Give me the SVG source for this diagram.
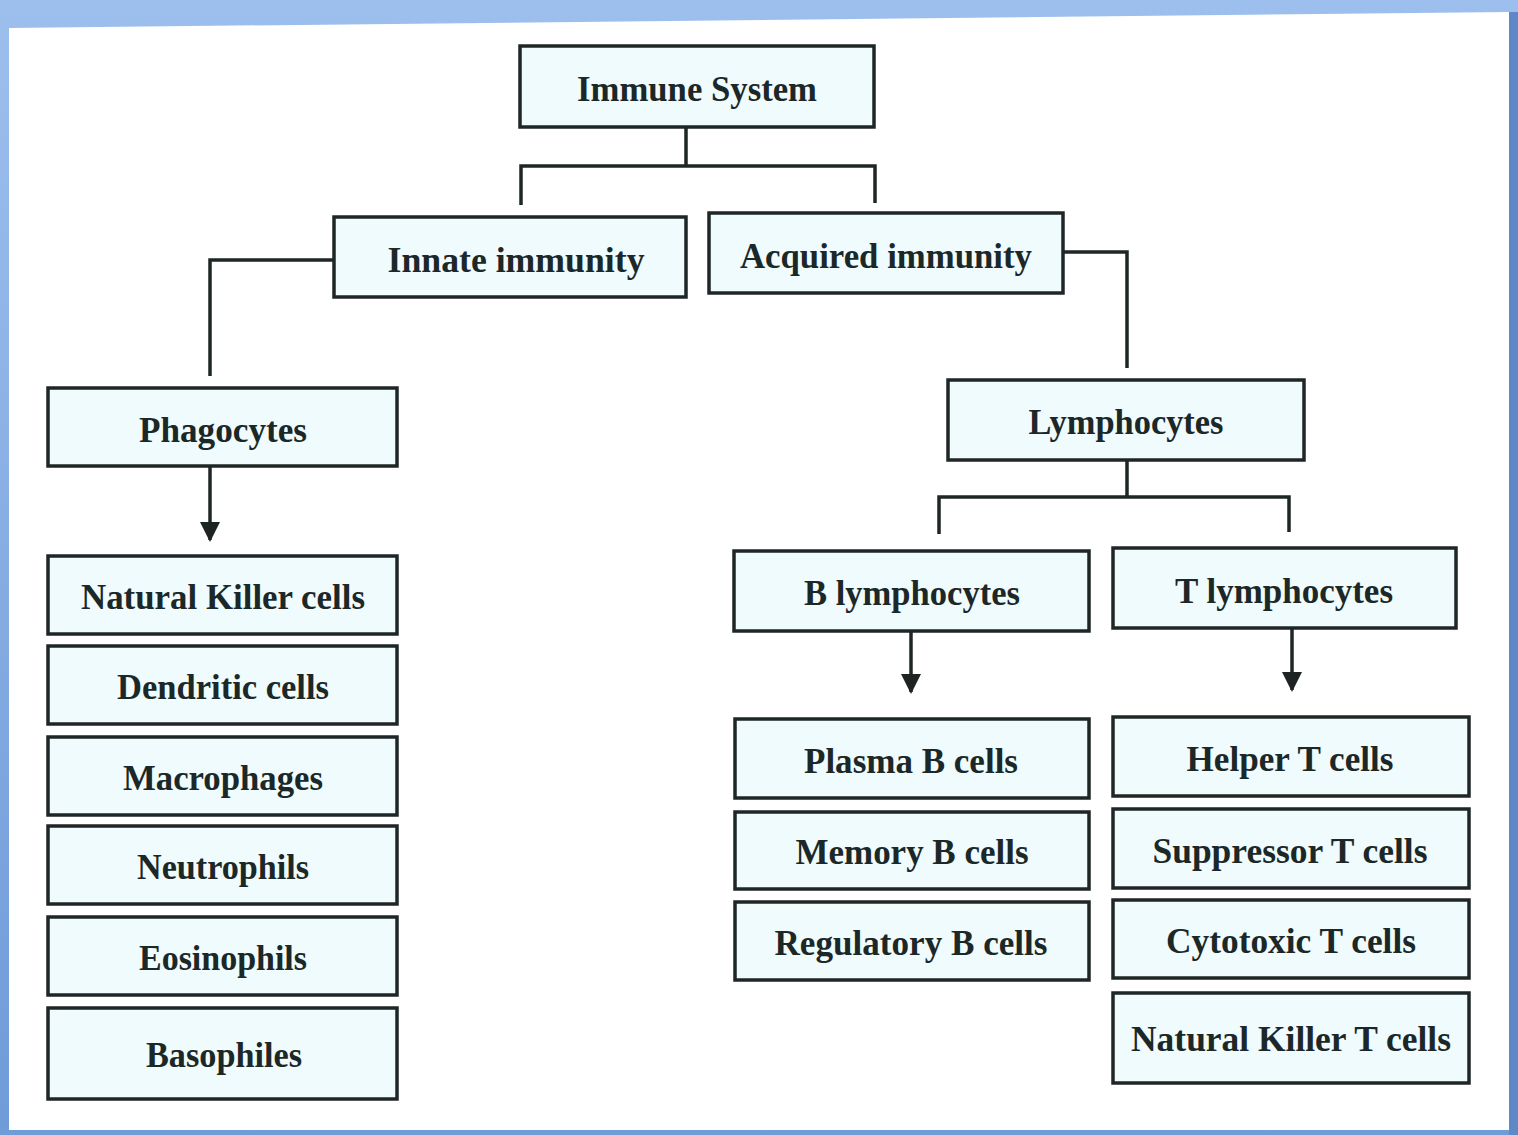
<svg xmlns="http://www.w3.org/2000/svg" width="1518" height="1135" viewBox="0 0 1518 1135">
<defs>
<linearGradient id="bg" x1="0" y1="0" x2="0" y2="1">
<stop offset="0" stop-color="#9dbfee"/>
<stop offset="1" stop-color="#6f9bd8"/>
</linearGradient>
<marker id="arr" viewBox="0 0 10 10" refX="9" refY="5" markerWidth="20" markerHeight="20" markerUnits="userSpaceOnUse" orient="auto">
<path d="M0,0 L10,5 L0,10 Z" fill="#1e2424"/>
</marker>
</defs>
<style>
.box{fill:#effbfc;stroke:#1f2626;stroke-width:3.5}
.t{font-family:"Liberation Serif","Times New Roman",serif;font-weight:bold;font-size:35px;fill:#1c2828;text-anchor:middle}
.c{fill:none;stroke:#1f2626;stroke-width:3.5}
</style>
<rect x="0" y="0" width="1518" height="1135" fill="url(#bg)"/>
<polygon points="9,28 1509,12 1509,1130 9,1130" fill="#ffffff"/>
<rect x="1509" y="12" width="9" height="1123" fill="#5f88c6"/>

<g id="connectors">
<path class="c" d="M686,127 V166 M521,205 V166 H875 V203"/>
<path class="c" d="M334,260 H210 V376"/>
<path class="c" d="M1063,252 H1127 V368"/>
<path class="c" d="M1127,460 V497 M939,534 V497 H1289 V532"/>
<path class="c" d="M210,466 V540" marker-end="url(#arr)"/>
<path class="c" d="M911,631 V692" marker-end="url(#arr)"/>
<path class="c" d="M1292,628 V690" marker-end="url(#arr)"/>
</g>

<g id="immune-system"><rect class="box" x="520" y="46" width="354" height="81"/><text class="t" x="697" y="101" textLength="240" lengthAdjust="spacingAndGlyphs">Immune System</text></g>
<g id="innate-immunity"><rect class="box" x="334" y="217" width="352" height="80"/><text class="t" x="516" y="272" textLength="257" lengthAdjust="spacingAndGlyphs">Innate immunity</text></g>
<g id="acquired-immunity"><rect class="box" x="709" y="213" width="354" height="80"/><text class="t" x="886" y="268" textLength="292" lengthAdjust="spacingAndGlyphs">Acquired immunity</text></g>
<g id="phagocytes"><rect class="box" x="48" y="388" width="349" height="78"/><text class="t" x="223" y="442" textLength="168" lengthAdjust="spacingAndGlyphs">Phagocytes</text></g>
<g id="lymphocytes"><rect class="box" x="948" y="380" width="356" height="80"/><text class="t" x="1126" y="434" textLength="195" lengthAdjust="spacingAndGlyphs">Lymphocytes</text></g>

<g id="natural-killer-cells"><rect class="box" x="48" y="556" width="349" height="78"/><text class="t" x="223" y="609" textLength="284" lengthAdjust="spacingAndGlyphs">Natural Killer cells</text></g>
<g id="dendritic-cells"><rect class="box" x="48" y="646" width="349" height="78"/><text class="t" x="223" y="699" textLength="212" lengthAdjust="spacingAndGlyphs">Dendritic cells</text></g>
<g id="macrophages"><rect class="box" x="48" y="737" width="349" height="78"/><text class="t" x="223" y="790" textLength="200" lengthAdjust="spacingAndGlyphs">Macrophages</text></g>
<g id="neutrophils"><rect class="box" x="48" y="826" width="349" height="78"/><text class="t" x="223" y="879" textLength="172" lengthAdjust="spacingAndGlyphs">Neutrophils</text></g>
<g id="eosinophils"><rect class="box" x="48" y="917" width="349" height="78"/><text class="t" x="223" y="970" textLength="168" lengthAdjust="spacingAndGlyphs">Eosinophils</text></g>
<g id="basophiles"><rect class="box" x="48" y="1008" width="349" height="91"/><text class="t" x="224" y="1067" textLength="156" lengthAdjust="spacingAndGlyphs">Basophiles</text></g>

<g id="b-lymphocytes"><rect class="box" x="734" y="551" width="355" height="80"/><text class="t" x="912" y="605" textLength="216" lengthAdjust="spacingAndGlyphs">B lymphocytes</text></g>
<g id="t-lymphocytes"><rect class="box" x="1113" y="548" width="343" height="80"/><text class="t" x="1284" y="603" textLength="218" lengthAdjust="spacingAndGlyphs">T lymphocytes</text></g>

<g id="plasma-b-cells"><rect class="box" x="735" y="719" width="354" height="79"/><text class="t" x="911" y="773" textLength="214" lengthAdjust="spacingAndGlyphs">Plasma B cells</text></g>
<g id="memory-b-cells"><rect class="box" x="735" y="812" width="354" height="77"/><text class="t" x="912" y="864" textLength="233" lengthAdjust="spacingAndGlyphs">Memory B cells</text></g>
<g id="regulatory-b-cells"><rect class="box" x="735" y="902" width="354" height="78"/><text class="t" x="911" y="955" textLength="273" lengthAdjust="spacingAndGlyphs">Regulatory B cells</text></g>

<g id="helper-t-cells"><rect class="box" x="1113" y="717" width="356" height="79"/><text class="t" x="1290" y="771" textLength="207" lengthAdjust="spacingAndGlyphs">Helper T cells</text></g>
<g id="suppressor-t-cells"><rect class="box" x="1113" y="809" width="356" height="79"/><text class="t" x="1290" y="863" textLength="275" lengthAdjust="spacingAndGlyphs">Suppressor T cells</text></g>
<g id="cytotoxic-t-cells"><rect class="box" x="1113" y="900" width="356" height="78"/><text class="t" x="1291" y="953" textLength="250" lengthAdjust="spacingAndGlyphs">Cytotoxic T cells</text></g>
<g id="natural-killer-t-cells"><rect class="box" x="1113" y="993" width="356" height="90"/><text class="t" x="1291" y="1051" textLength="320" lengthAdjust="spacingAndGlyphs">Natural Killer T cells</text></g>
</svg>
